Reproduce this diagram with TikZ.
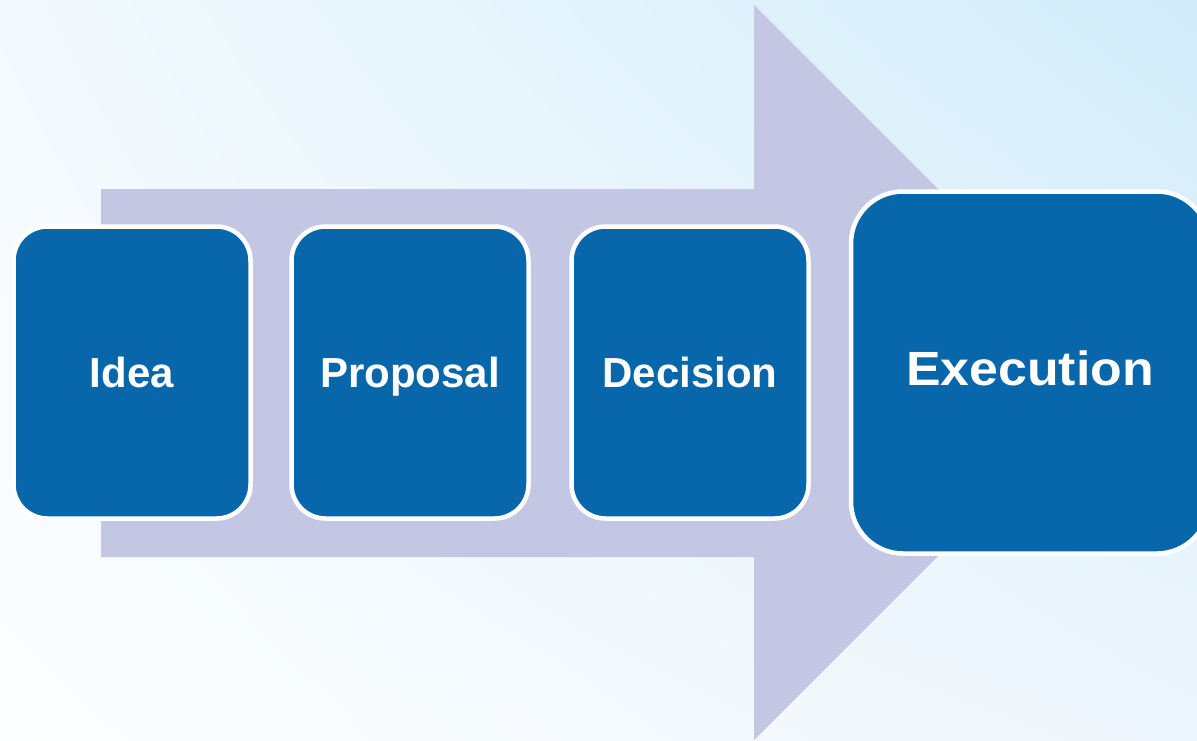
\documentclass[tikz,border=0pt]{standalone}
\usepackage{fontspec}
\setmainfont{Liberation Sans}
\usetikzlibrary{shadings}
\definecolor{stepblue}{HTML}{0866AB}
\definecolor{arrowfill}{HTML}{C3C7E4}
\definecolor{bgLL}{HTML}{FCFEFF}
\definecolor{bgUL}{HTML}{F3FAFE}
\definecolor{bgLR}{HTML}{EEF6FD}
\definecolor{bgUR}{HTML}{D2ECFA}
\newcommand{\biglabel}[1]{\scalebox{1.08}[1]{#1}}
\tikzset{
  stepbox/.style={draw=white, line width=4.5pt, fill=stepblue, rounded corners=34pt,
    inner sep=0pt, text=white, font=\bfseries\fontsize{42}{42}\selectfont,
    text height=30.1pt, text depth=1.1pt,
    minimum width=237pt, minimum height=292pt},
  bigbox/.style={stepbox, rounded corners=52pt, minimum width=358pt, minimum height=362pt,
    font=\bfseries\fontsize{48}{48}\selectfont, text height=34.4pt, text depth=9.4pt},
}
\begin{document}
\begin{tikzpicture}[x=1pt,y=-1pt]
  \useasboundingbox (0,0) rectangle (1197,740);
  \clip (0,0) rectangle (1197,740);
  \shade[lower left=bgLL, upper left=bgUL, lower right=bgLR, upper right=bgUR]
    (0,0) rectangle (1197,740);
  \fill[arrowfill] (101,189) -- (754,189) -- (754,5) -- (1121.5,372.5) -- (754,740)
    -- (754,557) -- (101,557) -- cycle;
  \node[stepbox] (idea) at (132,372.5) {Idea};
  \node[stepbox] (proposal) at (410,372.5) {Proposal};
  \node[stepbox] (decision) at (690,372.5) {Decision};
  \node[bigbox] (execution) at (1030,372.5) {\biglabel{Execution}};
\end{tikzpicture}
\end{document}
